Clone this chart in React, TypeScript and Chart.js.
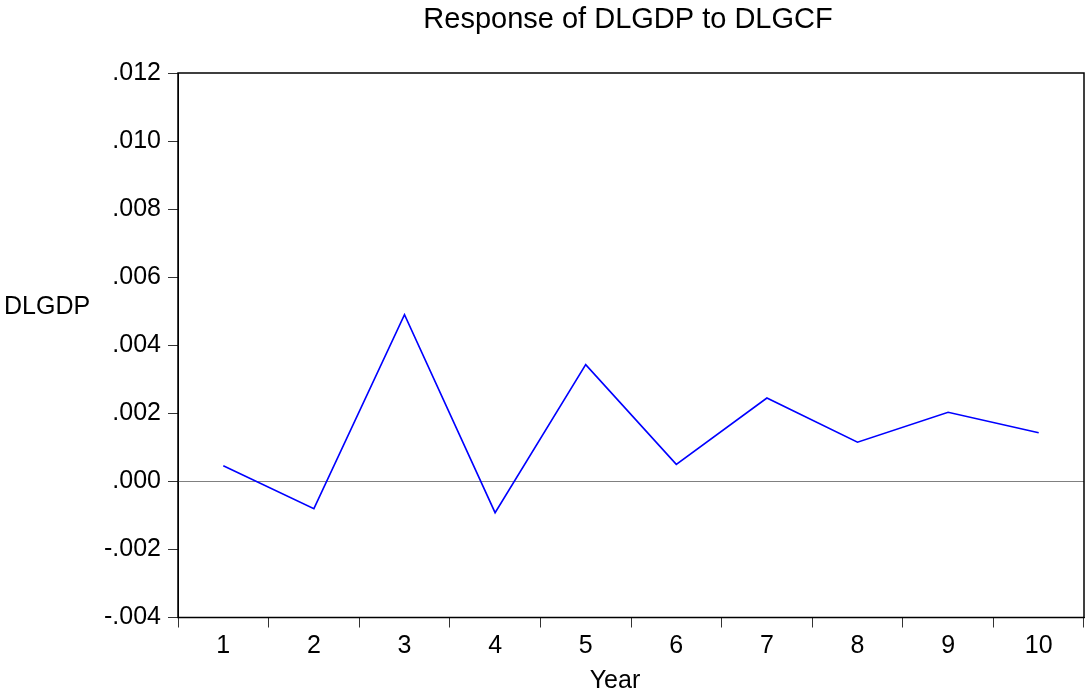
import React, { useEffect, useRef } from "react";
import { Chart, registerables } from "chart.js";

Chart.register(...registerables);

const years = ["1", "2", "3", "4", "5", "6", "7", "8", "9", "10"];
const response = [0.00046, -0.0008, 0.0049, -0.00092, 0.00343, 0.0005, 0.00245, 0.00115, 0.00203, 0.00143];
const yTicks = [-0.004, -0.002, 0.0, 0.002, 0.004, 0.006, 0.008, 0.01, 0.012];

const titleText = "Response of DLGDP to DLGCF";
const yTitle = "DLGDP";
const xTitle = "Year";

const FONT = "'Liberation Sans', Arial, sans-serif";

function fmt(v: number): string {
  const s = Math.abs(v).toFixed(3).replace(/^0/, "");
  return (v < -1e-9 ? "-" : "") + s;
}

const framePlugin = {
  id: "frame",
  beforeDatasetsDraw(chart: any) {
    const { ctx, chartArea, scales } = chart;
    const y0 = scales.y.getPixelForValue(0);
    ctx.save();
    ctx.strokeStyle = "#808080";
    ctx.lineWidth = 1;
    ctx.beginPath();
    ctx.moveTo(chartArea.left, Math.round(y0) + 0.5);
    ctx.lineTo(chartArea.right, Math.round(y0) + 0.5);
    ctx.stroke();
    ctx.restore();
  },
  afterDraw(chart: any) {
    const { ctx, chartArea } = chart;
    ctx.save();
    ctx.strokeStyle = "#000000";
    ctx.lineWidth = 1.5;
    ctx.strokeRect(chartArea.left, chartArea.top, chartArea.right - chartArea.left, chartArea.bottom - chartArea.top);
    ctx.fillStyle = "#000000";
    ctx.textBaseline = "middle";
    ctx.textAlign = "center";
    ctx.font = `29px ${FONT}`;
    ctx.fillText(titleText, 628, 20);
    ctx.font = `25px ${FONT}`;
    ctx.fillText(xTitle, 615, 681);
    ctx.textAlign = "left";
    ctx.fillText(yTitle, 4, 307);
    ctx.restore();
  },
};

export default function App() {
  const ref = useRef<HTMLCanvasElement | null>(null);
  useEffect(() => {
    document.body.style.margin = "0";
    const canvas = ref.current!;
    const chart = new Chart(canvas, {
      type: "line",
      data: {
        labels: years,
        datasets: [
          {
            data: response,
            borderColor: "#0000FF",
            borderWidth: 1.6,
            pointRadius: 0,
            tension: 0,
            fill: false,
          },
        ],
      },
      options: {
        animation: false,
        responsive: false,
        devicePixelRatio: 1,
        layout: { padding: { top: 73, right: 1, left: 0, bottom: 0 } },
        plugins: { legend: { display: false }, tooltip: { enabled: false }, title: { display: false } },
        scales: {
          x: {
            type: "category",
            offset: true,
            grid: {
              offset: true,
              drawOnChartArea: false,
              drawTicks: true,
              tickLength: 10,
              color: "#333333",
            },
            border: { display: true, color: "#000000", width: 1 },
            ticks: {
              color: "#000000",
              font: { family: FONT, size: 25 },
              padding: 4,
              maxRotation: 0,
              autoSkip: false,
            },
            afterFit(scale: any) {
              scale.height = 75.5;
            },
          },
          y: {
            type: "linear",
            min: -0.004,
            max: 0.012,
            afterBuildTicks(scale: any) {
              scale.ticks = yTicks.map((v) => ({ value: v }));
            },
            grid: {
              drawOnChartArea: false,
              drawTicks: true,
              tickLength: 10,
              color: "#333333",
            },
            border: { display: true, color: "#000000", width: 1 },
            ticks: {
              color: "#000000",
              font: { family: FONT, size: 25 },
              padding: 7,
              callback: (v: any) => fmt(Number(v)),
            },
            afterFit(scale: any) {
              scale.width = 178;
            },
          },
        },
      },
      plugins: [framePlugin],
    });
    return () => chart.destroy();
  }, []);
  return (
    <div style={{ position: "absolute", left: 0, top: 0, width: 1085, height: 693, background: "#fff" }}>
      <canvas ref={ref} width={1085} height={693} style={{ width: 1085, height: 693, display: "block" }} />
    </div>
  );
}
